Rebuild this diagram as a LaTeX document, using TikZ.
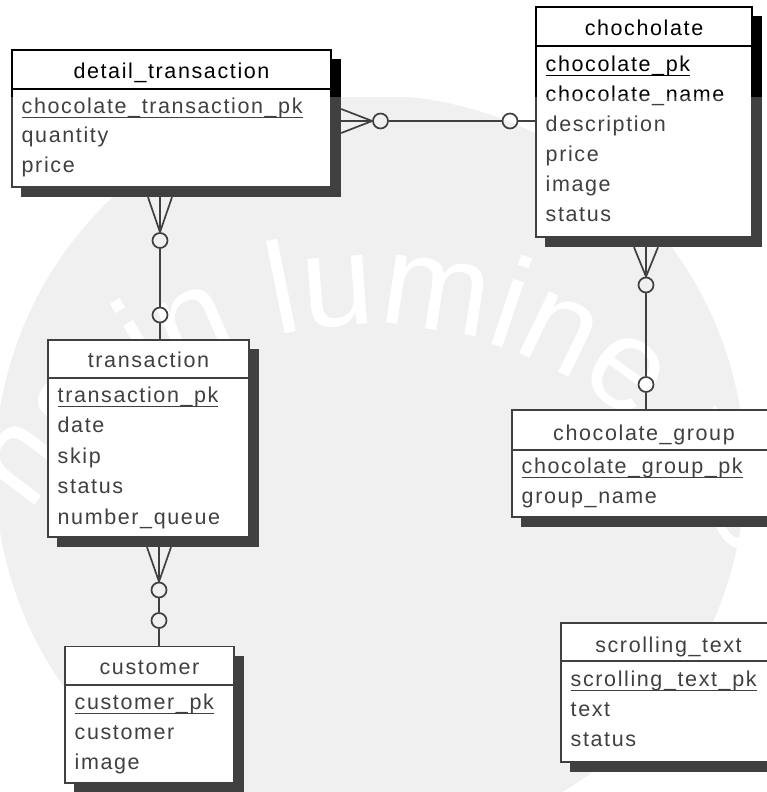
\documentclass[tikz,border=0pt]{standalone}
\usepackage{fontspec}
\setmainfont{Liberation Sans}[LetterSpace=7.5]
\newfontfamily\wmfont{Liberation Sans}
\usetikzlibrary{fit,decorations.text}
\definecolor{wmgray}{HTML}{EBEBEB}

% primary-key attribute: underlined name
\newcommand\pkattr[1]{\setbox0\hbox{#1}\rlap{\rule[-4.6pt]{\wd0}{1.1pt}}\box0}

\tikzset{
  entbox/.style={draw, line width=1.6pt, fill=white, rectangle, inner sep=0pt},
  shadowbox/.style={fill=black, rectangle, inner sep=0pt},
  hdline/.style={line width=1.6pt},
  etitle/.style={anchor=base, inner sep=0pt, font=\fontsize{21.5}{26}\selectfont},
  attr/.style={anchor=base west, inner sep=0pt, font=\fontsize{21.5}{26}\selectfont},
  ring/.style={circle, draw, line width=1.7pt, minimum size=15pt, inner sep=0pt},
  link/.style={line width=1.7pt},
}

% entity table: #1 name, #2 left, #3 top, #4 right, #5 header rule, #6 bottom, #7 title baseline, #8 title
\newcommand\entity[8]{%
  \coordinate (#1-nw) at (#2,#3);
  \coordinate (#1-se) at (#4,#6);
  \coordinate (#1-snw) at (#2+9,#3+9);
  \coordinate (#1-sse) at (#4+10,#6+10);
  \coordinate (#1-hd) at (0,#5);
  \coordinate (#1-tb) at (0,#7);
  \node[shadowbox, fit=(#1-snw)(#1-sse)] (#1-sh) {};
  \node[entbox, fit=(#1-nw)(#1-se)] (#1) {};
  \draw[hdline] (#1.west |- #1-hd) -- (#1.east |- #1-hd);
  \node[etitle] (#1-title) at (#1.north |- #1-tb) {#8};
}

\begin{document}
\begin{tikzpicture}[x=1pt,y=-1pt]
\useasboundingbox (0,0) rectangle (767,792);
\clip (0,0) rectangle (767,792);
\fill[white] (0,0) rectangle (767,792);

% faint seal in the background
\begin{scope}
  \clip (0,97) rectangle (767,792);
  \fill[wmgray] (370,470) circle (375);
  \path[decorate, decoration={text along path, text align=left, text color=white,
      text={|\wmfont\fontsize{130}{130}\selectfont|ns in lumine veritatis}}]
    (370,725) ++(-148:400) arc[start angle=-148, end angle=20, radius=400];
\end{scope}

% ---------- tables ----------
\entity{dt}{12}{50}{331}{89}{187}{78}{detail\_transaction}
\node[attr] (dt-a1) at (21.5,113) {\pkattr{chocolate\_transaction\_pk}};
\node[attr] (dt-a2) at (21.5,142.5) {quantity};
\node[attr] (dt-a3) at (21.5,172) {price};

\entity{ch}{536}{7}{752}{46}{237}{36}{chocholate}
\node[attr] (ch-a1) at (545.5,71) {\pkattr{chocolate\_pk}};
\node[attr] (ch-a2) at (545.5,101) {chocolate\_name};
\node[attr] (ch-a3) at (545.5,131) {description};
\node[attr] (ch-a4) at (545.5,161) {price};
\node[attr] (ch-a5) at (545.5,191) {image};
\node[attr] (ch-a6) at (545.5,221) {status};

\entity{tr}{48}{340}{249}{378}{537}{367}{transaction}
\node[attr] (tr-a1) at (57.5,402) {\pkattr{transaction\_pk}};
\node[attr] (tr-a2) at (57.5,432.5) {date};
\node[attr] (tr-a3) at (57.5,463) {skip};
\node[attr] (tr-a4) at (57.5,493.5) {status};
\node[attr] (tr-a5) at (57.5,524) {number\_queue};

\entity{cu}{65}{646.5}{234}{685}{783}{674}{customer}
\node[attr] (cu-a1) at (74.5,709) {\pkattr{customer\_pk}};
\node[attr] (cu-a2) at (74.5,739) {customer};
\node[attr] (cu-a3) at (74.5,769) {image};

\entity{cg}{512}{410}{776}{450}{517}{440}{chocolate\_group}
\node[attr] (cg-a1) at (521.5,473) {\pkattr{chocolate\_group\_pk}};
\node[attr] (cg-a2) at (521.5,503) {group\_name};

\entity{st}{561}{623}{776}{661}{762}{652}{scrolling\_text}
\node[attr] (st-a1) at (570.5,686) {\pkattr{scrolling\_text\_pk}};
\node[attr] (st-a2) at (570.5,716) {text};
\node[attr] (st-a3) at (570.5,746) {status};

% ---------- relationships ----------
% detail_transaction >o----o chocholate
\node[ring] (r1a) at (380.5,121) {};
\node[ring] (r1b) at (510,121) {};
\draw[link] (dt-sh.east |- r1a) ++(0,-12) -- (r1a.west);
\draw[link] (dt-sh.east |- r1a) -- (r1a.west);
\draw[link] (dt-sh.east |- r1a) ++(0,12) -- (r1a.west);
\draw[link] (r1a) -- (r1b);
\draw[link] (r1b) -- (ch.west |- r1b);

% detail_transaction >o----o transaction
\node[ring] (r2a) at (160,240.5) {};
\node[ring] (r2b) at (160,315) {};
\draw[link] (dt-sh.south -| r2a) ++(-12,0) -- (r2a.north);
\draw[link] (dt-sh.south -| r2a) -- (r2a.north);
\draw[link] (dt-sh.south -| r2a) ++(12,0) -- (r2a.north);
\draw[link] (r2a) -- (r2b);
\draw[link] (r2b) -- (tr.north -| r2b);

% transaction >o----o customer
\node[ring] (r3a) at (159,590) {};
\node[ring] (r3b) at (159,620.5) {};
\draw[link] (tr-sh.south -| r3a) ++(-12,0) -- (r3a.north);
\draw[link] (tr-sh.south -| r3a) -- (r3a.north);
\draw[link] (tr-sh.south -| r3a) ++(12,0) -- (r3a.north);
\draw[link] (r3a) -- (r3b);
\draw[link] (r3b) -- (cu.north -| r3b);

% chocholate >o----o chocolate_group
\node[ring] (r4a) at (646,285) {};
\node[ring] (r4b) at (646,384.5) {};
\draw[link] (ch-sh.south -| r4a) ++(-12,0) -- (r4a.north);
\draw[link] (ch-sh.south -| r4a) -- (r4a.north);
\draw[link] (ch-sh.south -| r4a) ++(12,0) -- (r4a.north);
\draw[link] (r4a) -- (r4b);
\draw[link] (r4b) -- (cg.north -| r4b);

% the seal lightens everything below its top edge
\fill[white, opacity=0.25] (0,97) rectangle (767,792);
\end{tikzpicture}
\end{document}
